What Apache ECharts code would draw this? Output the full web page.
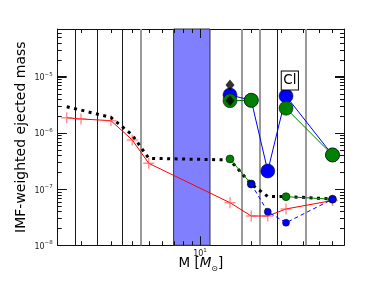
<!DOCTYPE html>
<html><head><meta charset="utf-8">
<script src="https://cdn.jsdelivr.net/npm/echarts@6/dist/echarts.min.js"></script>
<style>html,body{margin:0;padding:0;background:#fff}#c{width:382px;height:288px}</style>
</head><body><div id="c"></div>
<script>
// ---- data ----
const masses = [1.65, 2, 3, 4, 5, 15, 20, 25, 32, 60];
const redYield = [1.86e-6, 1.77e-6, 1.65e-6, 7.5e-7, 2.88e-7, 5.73e-8, 3.32e-8, 3.32e-8, 4.43e-8, 6.27e-8];
const totalYield = [2.92e-6, 2.55e-6, 1.88e-6, 9.2e-7, 3.53e-7, 3.3e-7, 1.23e-7, 7.38e-8, 7.38e-8, 6.67e-8];
const hiMasses = [15, 20, 25, 32, 60];
const greenSmall = [3.44e-7, 1.23e-7, null, 7.33e-8, 6.6e-8];
const blueSmall = [null, 1.23e-7, 3.96e-8, 2.52e-8, 6.6e-8];
const blueBig = [4.72e-6, 3.8e-6, 2.1e-7, 4.54e-6, 4.05e-7];
const greenBig = [3.74e-6, 3.8e-6, null, 2.74e-6, 4.05e-7];
const diamondMass = [15, 15];
const diamondYield = [7.11e-6, 3.74e-6];
const blackLines = [1.85, 2.5, 3.5, 28.5];
const grayLines = [4.5, 17.5, 22.5, 42];
const bandRange = [7, 11.45];
const clText = 'Cl';
const clPos = [33.7, 8.55e-6];
const xMajor = [10];
const xMinor = [2, 3, 4, 5, 6, 7, 8, 9, 20, 30, 40, 50, 60, 70];
const yMajor = [1e-8, 1e-7, 1e-6, 1e-5];
const yMinor = [2e-8,3e-8,4e-8,5e-8,6e-8,7e-8,8e-8,9e-8,
                2e-7,3e-7,4e-7,5e-7,6e-7,7e-7,8e-7,9e-7,
                2e-6,3e-6,4e-6,5e-6,6e-6,7e-6,8e-6,9e-6,
                2e-5,3e-5,4e-5,5e-5,6e-5,7e-5];
const X_MIN = 1.46, X_MAX = 70.1, Y_MIN = 1e-8, Y_MAX = 7.06e-5;

// ---- chart ----
const FONT = 'DejaVu Sans';
const AX = '#111';
const MAJ = 9, MIN = 4;
const pairs = (xs, ys) => xs.map((x, i) => [x, ys[i] == null ? '-' : ys[i]]);
const supRich = {
  b: {fontSize: 8, fontFamily: FONT, color: '#222', lineHeight: 11, verticalAlign: 'bottom'},
  s: {fontSize: 5.5, fontFamily: FONT, color: '#222', lineHeight: 6, verticalAlign: 'top'}
};
const expFmt = v => '{b|10}{s|' + String(Math.round(Math.log10(v))).replace('-', '\u2212') + '}';

function axisBase(pos, min, max, majors, opts) {
  return Object.assign({
    type: 'log', position: pos, min: min, max: max,
    axisLine: {show: true, onZero: false, lineStyle: {color: AX, width: 1}},
    axisTick: {show: true, inside: true, length: MAJ, customValues: majors, lineStyle: {color: AX, width: 1}},
    axisLabel: {show: false},
    splitLine: {show: false}, minorTick: {show: false}
  }, opts || {});
}
const xTickVals = xMajor.concat(xMinor);
const xTickLen = xMajor.map(() => MAJ).concat(xMinor.map(() => MIN));
const yTickVals = yMajor.concat(yMinor);
const yTickLen = yMajor.map(() => MAJ).concat(yMinor.map(() => MIN));

const chart = echarts.init(document.getElementById('c'));
chart.setOption({
  animation: false,
  backgroundColor: '#fff',
  grid: {left: 57.7, right: 38, top: 29, bottom: 42.7},
  xAxis: [
    axisBase('bottom', X_MIN, X_MAX, xMajor, {
      axisLabel: {show: true, customValues: xMajor, margin: 2, formatter: expFmt, rich: supRich},
      name: '{n|M [}{i|M}{u|\u2299}{n|]}', nameLocation: 'middle', nameGap: 11, nameMoveOverlap: false,
      nameTextStyle: {rich: {
        n: {fontSize: 13.5, fontFamily: FONT, color: '#000', lineHeight: 17, verticalAlign: 'top'},
        i: {fontSize: 13.5, fontFamily: FONT, fontStyle: 'italic', color: '#000', lineHeight: 17, verticalAlign: 'top'},
        u: {fontSize: 8, fontFamily: FONT, color: '#000', lineHeight: 9, verticalAlign: 'bottom'}
      }}
    }),
    axisBase('top', X_MIN, X_MAX, xMajor)
  ],
  yAxis: [
    axisBase('left', Y_MIN, Y_MAX, yMajor, {
      axisLabel: {show: true, customValues: yMajor, margin: 5, formatter: expFmt, rich: supRich},
      name: 'IMF-weighted ejected mass', nameLocation: 'middle', nameGap: 29, nameMoveOverlap: false,
      nameTextStyle: {fontSize: 14, fontFamily: FONT, color: '#000'}
    }),
    axisBase('right', Y_MIN, Y_MAX, yMajor)
  ],
  series: [
    {
      type: 'line', z: 3, data: pairs(masses, redYield),
      symbol: 'path://M0,4.35H10V5.65H0ZM4.35,0H5.65V10H4.35Z', symbolSize: 11, showAllSymbol: true,
      itemStyle: {color: 'rgba(255,70,70,0.6)'},
      lineStyle: {color: '#ff0000', width: 1},
      markLine: {
        z: 1, silent: true, symbol: ['none', 'none'], label: {show: false},
        data: blackLines.map(v => ({xAxis: v, lineStyle: {color: '#1a1a1a', width: 1, type: 'solid'}}))
          .concat(grayLines.map(v => ({xAxis: v, lineStyle: {color: '#9a9a9a', width: 2, type: 'solid'}})))
      },
      markArea: {
        z: 1, silent: true,
        itemStyle: {color: '#8080ff', borderColor: '#333', borderWidth: 1},
        data: [[{xAxis: bandRange[0]}, {xAxis: bandRange[1]}]]
      }
    },
    {
      type: 'line', z: 4, data: pairs(masses, totalYield), symbol: 'none',
      lineStyle: {color: '#000', width: 3, type: [3, 4.5], cap: 'butt'}
    },
    {
      type: 'line', z: 5, data: pairs(hiMasses, greenSmall), symbol: 'circle', symbolSize: 8,
      itemStyle: {color: '#008000', borderColor: '#000', borderWidth: 0.5},
      lineStyle: {color: '#008000', width: 1}
    },
    {
      type: 'line', z: 5, data: pairs(hiMasses, blueSmall), symbol: 'circle', symbolSize: 7,
      itemStyle: {color: '#0000ff', borderColor: '#000', borderWidth: 0.5},
      lineStyle: {color: '#0000ff', width: 1, type: [4, 3]}
    },
    {
      type: 'line', z: 6, data: pairs(hiMasses, blueBig), symbol: 'circle', symbolSize: 14,
      itemStyle: {color: '#0000ff', borderColor: '#000', borderWidth: 0.5},
      lineStyle: {color: '#0000ff', width: 1},
      markPoint: {
        z: 9, symbol: 'rect', symbolSize: 1, itemStyle: {color: 'rgba(0,0,0,0)'},
        label: {show: true, position: 'inside', formatter: clText, fontSize: 13.5, fontFamily: FONT, color: '#000',
          backgroundColor: '#fff', borderColor: '#000', borderWidth: 1, padding: [2, 1.5, 1, 1.5], lineHeight: 15},
        data: [{coord: clPos}]
      }
    },
    {
      type: 'line', z: 7, data: pairs(hiMasses, greenBig), symbol: 'circle', symbolSize: 14,
      itemStyle: {color: '#008000', borderColor: '#000', borderWidth: 0.5},
      lineStyle: {color: '#008000', width: 1}
    },
    {
      type: 'scatter', z: 8, data: pairs(diamondMass, diamondYield), symbol: 'diamond', symbolSize: [9, 11],
      itemStyle: {color: '#000'}
    },
    // x-axis tick marks (bottom and top): x from the axis scale, ends from the grid rectangle
    {
      type: 'custom', z: 20, clip: false,
      dimensions: ['x', 'y'], encode: {x: 0, y: 1},
      data: xTickVals.map(v => [v, 1e-6]),
      renderItem: (params, api) => {
        const i = params.dataIndex, cs = params.coordSys;
        const c = api.coord([xTickVals[i], 1e-6]);
        const x = Math.round(c[0]), len = xTickLen[i];
        const yb = cs.y + cs.height, yt = cs.y;
        return {type: 'group', children: [
          {type: 'rect', shape: {x: x, y: yb - len, width: 1, height: len}, style: {fill: AX}},
          {type: 'rect', shape: {x: x, y: yt, width: 1, height: len}, style: {fill: AX}}
        ]};
      }
    },
    // y-axis tick marks (left and right)
    {
      type: 'custom', z: 20, clip: false,
      dimensions: ['x', 'y'], encode: {x: 0, y: 1},
      data: yTickVals.map(v => [10, v]),
      renderItem: (params, api) => {
        const i = params.dataIndex, cs = params.coordSys;
        const c = api.coord([10, yTickVals[i]]);
        const y = Math.round(c[1]), len = yTickLen[i];
        const xl = cs.x, xr = cs.x + cs.width;
        return {type: 'group', children: [
          {type: 'rect', shape: {x: xl, y: y, width: len, height: 1}, style: {fill: AX}},
          {type: 'rect', shape: {x: xr - len, y: y, width: len, height: 1}, style: {fill: AX}}
        ]};
      }
    }
  ]
});
</script></body></html>
